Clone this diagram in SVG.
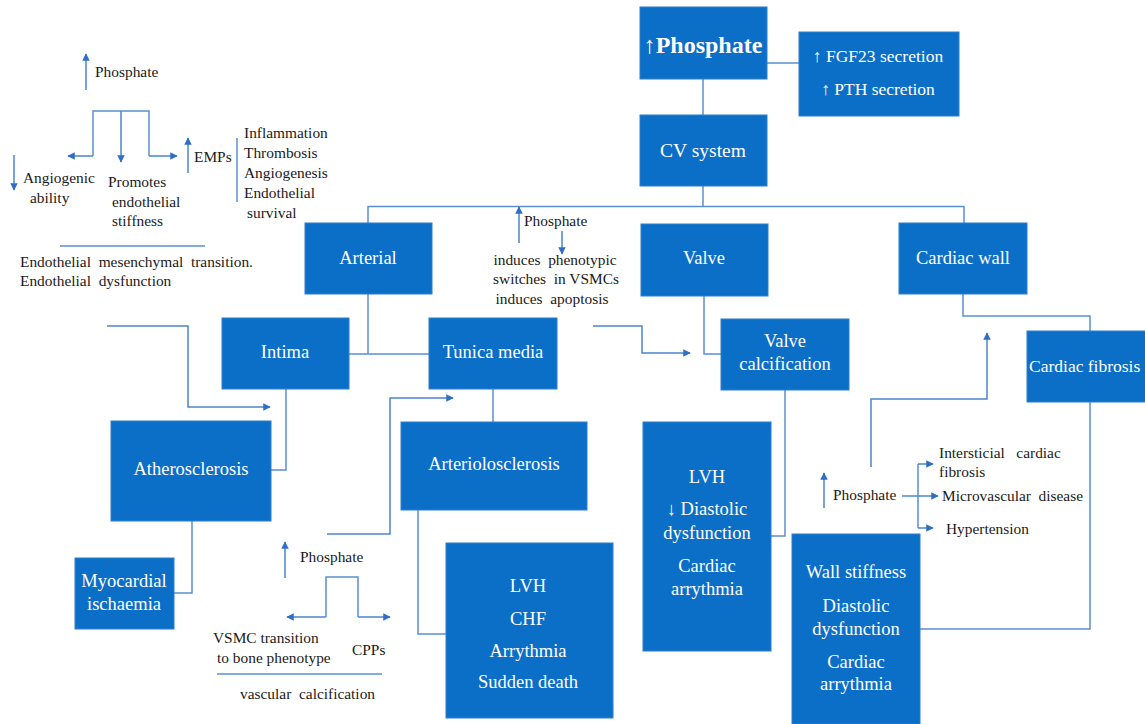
<svg xmlns="http://www.w3.org/2000/svg" width="1145" height="724" viewBox="0 0 1145 724">
<defs>
<style>
.box{fill:#0b6ec7;stroke:#2f7fcc;stroke-width:1}
.bt{fill:#ffffff;font-family:"Liberation Serif","Times New Roman",serif;font-size:18.5px;text-anchor:middle}
.t{fill:#1a1a1a;font-family:"Liberation Serif","Times New Roman",serif;font-size:15.4px}
.ln{fill:none;stroke:#5a8fd0;stroke-width:1.5}
.ar{fill:none;stroke:#4a86cc;stroke-width:1.5;marker-end:url(#ah)}
</style>
<marker id="ah" viewBox="0 0 10 10" refX="9" refY="5" markerWidth="5" markerHeight="5" orient="auto" markerUnits="strokeWidth">
<path d="M0,0 L10,5 L0,10 z" fill="#2e6fc4"/>
</marker>
</defs>
<rect width="1145" height="724" fill="#ffffff"/>

<g id="connectors">
<path class="ln" d="M767,63 H799"/>
<path class="ln" d="M703,79 V115"/>
<path class="ln" d="M703,186 V207"/>
<path class="ln" d="M368,223 V206.5 H964 V223"/>
<path class="ln" d="M368,294 V354"/>
<path class="ln" d="M349,354 H429"/>
<path class="ln" d="M704,296 V354 H721"/>
<path class="ln" d="M963,294 V316 H1090 V331"/>
<path class="ln" d="M286,389 V470 H271"/>
<path class="ln" d="M192,521 V593 H174"/>
<path class="ln" d="M493,389 V422"/>
<path class="ln" d="M418,510 V634 H446"/>
<path class="ln" d="M785,390 V536 H771"/>
<path class="ln" d="M920,629 H1090 V402"/>
<path class="ar" d="M107,326 H188 V407 H270"/>
<path class="ar" d="M327,534 H390 V398 H453"/>
<path class="ar" d="M593,326 H642 V353 H690"/>
<path class="ar" d="M871,467 V399 H987 V333"/>
<path class="ar" d="M86,90 V54"/>
<path class="ln" d="M93,156 V111 H149 V156"/>
<path class="ar" d="M93,156 H68"/>
<path class="ar" d="M121,111 V162"/>
<path class="ar" d="M149,156 H177"/>
<path class="ar" d="M188,173 V138"/>
<path class="ar" d="M14,155 V190"/>
<path class="ln" d="M237,138 V202"/>
<path class="ln" d="M60,246 H205"/>
<path class="ar" d="M519,243 V207"/>
<path class="ar" d="M562,231 V254"/>
<path class="ar" d="M285,578 V542"/>
<path class="ln" d="M326,617 V577 H358 V617"/>
<path class="ar" d="M326,617 H287"/>
<path class="ar" d="M358,617 H390"/>
<path class="ln" d="M217,674 H382"/>
<path class="ar" d="M824,508 V473"/>
<path class="ar" d="M902,496 H938"/>
<path class="ln" d="M918,496 V464"/>
<path class="ln" d="M918,496 V528"/>
<path class="ar" d="M918,464 H933"/>
<path class="ar" d="M918,528 H933"/>
</g>

<g id="n-phosphate"><rect class="box" x="640" y="7" width="127" height="72"/><text class="bt" x="703" y="53" style="font-size:24px;font-weight:bold">↑Phosphate</text></g>
<g id="n-fgf"><rect class="box" x="799" y="32" width="160" height="84"/><text class="bt" x="878" y="62" style="font-size:17.5px">↑ FGF23 secretion</text><text class="bt" x="878" y="95" style="font-size:17.5px">↑ PTH secretion</text></g>
<g id="n-cv"><rect class="box" x="640" y="115" width="127" height="71"/><text class="bt" x="703" y="157" style="font-size:19.5px">CV system</text></g>
<g id="n-arterial"><rect class="box" x="305" y="223" width="127" height="71"/><text class="bt" x="368" y="264">Arterial</text></g>
<g id="n-valve"><rect class="box" x="641" y="224" width="127" height="72"/><text class="bt" x="704" y="264">Valve</text></g>
<g id="n-cardiacwall"><rect class="box" x="899" y="223" width="128" height="71"/><text class="bt" x="963" y="264">Cardiac  wall</text></g>
<g id="n-intima"><rect class="box" x="222" y="318" width="127" height="71"/><text class="bt" x="285" y="358">Intima</text></g>
<g id="n-tunica"><rect class="box" x="429" y="318" width="128" height="71"/><text class="bt" x="493" y="358">Tunica media</text></g>
<g id="n-valvecalc"><rect class="box" x="721" y="319" width="128" height="71"/><text class="bt" x="785" y="347">Valve</text><text class="bt" x="785" y="370">calcification</text></g>
<g id="n-cardiacfib"><rect class="box" x="1027" y="331" width="125" height="71"/><text class="bt" x="1029" y="372" style="text-anchor:start;font-size:17.5px">Cardiac fibrosis</text></g>
<g id="n-athero"><rect class="box" x="111" y="421" width="160" height="100"/><text class="bt" x="191" y="475">Atherosclerosis</text></g>
<g id="n-myo"><rect class="box" x="75" y="558" width="99" height="71"/><text class="bt" x="124" y="587">Myocardial</text><text class="bt" x="124" y="610">ischaemia</text></g>
<g id="n-arteriolo"><rect class="box" x="401" y="422" width="186" height="88"/><text class="bt" x="494" y="470">Arteriolosclerosis</text></g>
<g id="n-lvhchf"><rect class="box" x="446" y="543" width="167" height="175"/><text class="bt" x="528" y="592">LVH</text><text class="bt" x="528" y="625">CHF</text><text class="bt" x="528" y="657">Arrythmia</text><text class="bt" x="528" y="688">Sudden death</text></g>
<g id="n-lvhdia"><rect class="box" x="643" y="422" width="128" height="229"/><text class="bt" x="707" y="483">LVH</text><text class="bt" x="707" y="515">↓ Diastolic</text><text class="bt" x="707" y="539">dysfunction</text><text class="bt" x="707" y="572">Cardiac</text><text class="bt" x="707" y="595">arrythmia</text></g>
<g id="n-wall"><rect class="box" x="792" y="534" width="128" height="190"/><text class="bt" x="856" y="578">Wall stiffness</text><text class="bt" x="856" y="612">Diastolic</text><text class="bt" x="856" y="635">dysfunction</text><text class="bt" x="856" y="668">Cardiac</text><text class="bt" x="856" y="690">arrythmia</text></g>

<g id="labels">
<text class="t" x="95" y="77">Phosphate</text>
<text class="t" x="23" y="183">Angiogenic</text>
<text class="t" x="30" y="203">ability</text>
<text class="t" x="108" y="187">Promotes</text>
<text class="t" x="112" y="207">endothelial</text>
<text class="t" x="112" y="226">stiffness</text>
<text class="t" x="194" y="162">EMPs</text>
<text class="t" x="244" y="138">Inflammation</text>
<text class="t" x="244" y="158">Thrombosis</text>
<text class="t" x="244" y="178">Angiogenesis</text>
<text class="t" x="244" y="198">Endothelial</text>
<text class="t" x="247" y="218">survival</text>
<text class="t" x="20" y="267" xml:space="preserve">Endothelial  mesenchymal  transition.</text>
<text class="t" x="20" y="286" xml:space="preserve">Endothelial  dysfunction</text>
<text class="t" x="524" y="226">Phosphate</text>
<text class="t" x="555" y="265" text-anchor="middle" xml:space="preserve">induces  phenotypic</text>
<text class="t" x="556" y="284" text-anchor="middle" xml:space="preserve">switches  in VSMCs</text>
<text class="t" x="552" y="304" text-anchor="middle" xml:space="preserve">induces  apoptosis</text>
<text class="t" x="300" y="562">Phosphate</text>
<text class="t" x="213" y="643">VSMC transition</text>
<text class="t" x="217" y="663">to bone phenotype</text>
<text class="t" x="352" y="655">CPPs</text>
<text class="t" x="240" y="699" xml:space="preserve">vascular  calcification</text>
<text class="t" x="833" y="500">Phosphate</text>
<text class="t" x="939" y="458" xml:space="preserve">Intersticial   cardiac</text>
<text class="t" x="939" y="477">fibrosis</text>
<text class="t" x="942" y="501" xml:space="preserve">Microvascular  disease</text>
<text class="t" x="946" y="534">Hypertension</text>
</g>
</svg>
